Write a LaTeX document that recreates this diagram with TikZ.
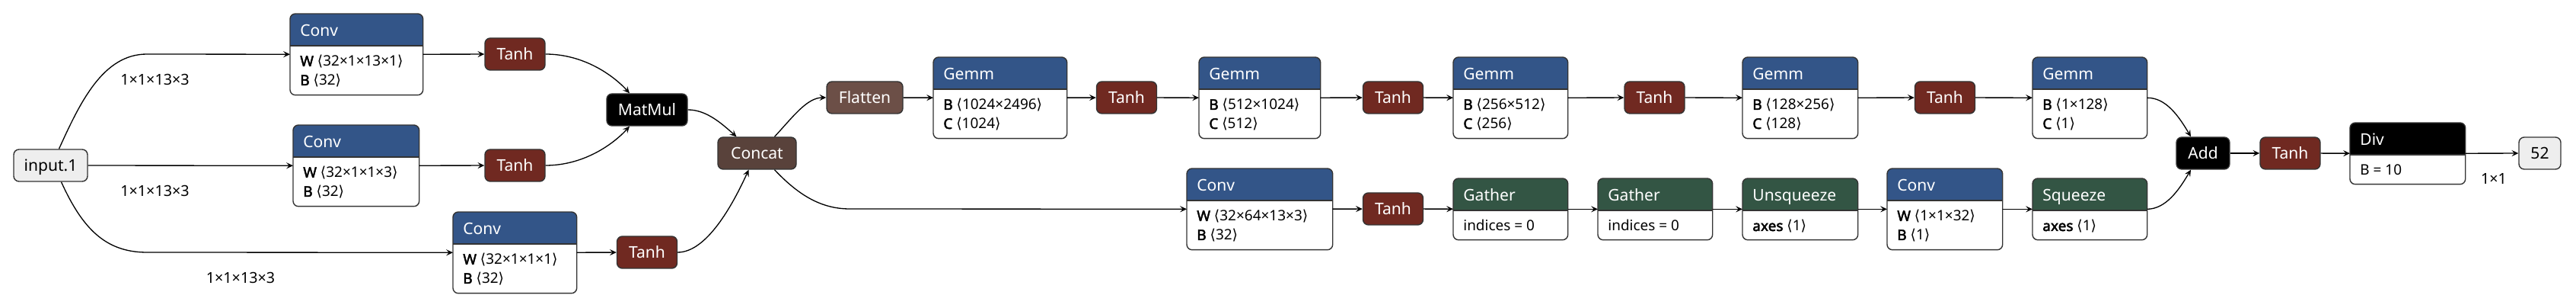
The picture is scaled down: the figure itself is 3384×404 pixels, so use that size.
\documentclass[tikz,border=0pt]{standalone}
\usepackage{fontspec}
\setmainfont{Noto Sans}
\newfontfamily\brfont{DejaVu Sans}
\newfontfamily\keyfont{Noto Sans}[FakeBold=2.4]
\usetikzlibrary{arrows.meta,calc}

\definecolor{layerblue}{RGB}{51,85,136}
\definecolor{actred}{RGB}{112,41,33}
\definecolor{shapebrown}{RGB}{108,79,71}
\definecolor{tensorbrown}{RGB}{89,66,59}
\definecolor{transgreen}{RGB}{51,85,68}
\definecolor{inputgray}{RGB}{238,238,238}
\definecolor{framegray}{RGB}{51,51,51}

\newdimen\pxu \pxu=0.02cm
\newcommand{\headsize}{\fontsize{12}{14}\selectfont}
\newcommand{\rowsize}{\fontsize{10.8}{13}\selectfont}
\newcommand{\dims}[1]{{\brfont ⟨}#1{\brfont ⟩}}
\newcommand{\key}[1]{{\keyfont #1}}

\tikzset{
  frame/.style={draw=framegray, line width=0.8pt},
  opnode/.style={frame, rounded corners=4pt, minimum height=42\pxu, inner sep=0pt,
    text=white, font=\headsize, text height=8.6pt, text depth=0pt},
  actnode/.style={opnode, fill=actred},
  blacknode/.style={opnode, fill=black},
  ionode/.style={opnode, fill=inputgray, text=black},
  boxbody/.style={fill=white, rounded corners=4pt, inner sep=0pt},
  headtext/.style={anchor=base west, inner sep=0pt, text=white, font=\headsize},
  rowtext/.style={anchor=base west, inner sep=0pt, font=\rowsize},
  lab/.style={inner sep=0pt, font=\fontsize{11.2}{13}\selectfont},
  edge/.style={draw=black, line width=0.75pt, -{Stealth[length=5pt, width=4.6pt, inset=2pt]}}
}

% name, left, top, width, height, colour, title, row 1, row 2
\newcommand{\opbox}[9]{%
  \node[boxbody, minimum width=#4\pxu, minimum height=#5\pxu, anchor=north west] (#1) at (#2,#3) {};
  \begin{scope}
    \clip[rounded corners=4pt] (#1.north west) rectangle (#1.south east);
    \fill[#6] (#1.north west) rectangle ($(#1.north east)+(0,42)$);
  \end{scope}
  \draw[frame] ($(#1.north west)+(0,42)$) -- ($(#1.north east)+(0,42)$);
  \draw[frame, rounded corners=4pt] (#1.north west) rectangle (#1.south east);
  \node[headtext] (#1-title) at ($(#1.north west)+(13,30)$) {#7};
  \node[rowtext] (#1-row1) at ($(#1.north west)+(13,69)$) {#8};
  \if\relax\detokenize{#9}\relax\else
    \node[rowtext] (#1-row2) at ($(#1.north west)+(13,94)$) {#9};
  \fi
}

\begin{document}
\begin{tikzpicture}[x=0.02cm, y=-0.02cm]
  \useasboundingbox (0,0) rectangle (3384,404);

  % three convolutions on the input
  \node[ionode, minimum width=97\pxu] (in) at (66.5,217) {input.1};
  \opbox{conv1}{381}{18}{174}{106}{layerblue}{Conv}{\key{W} \dims{32×1×13×1}}{\key{B} \dims{32}}
  \opbox{conv2}{385}{164}{165}{106}{layerblue}{Conv}{\key{W} \dims{32×1×1×3}}{\key{B} \dims{32}}
  \opbox{conv3}{595}{278}{162}{106}{layerblue}{Conv}{\key{W} \dims{32×1×1×1}}{\key{B} \dims{32}}

  \foreach \n/\x/\y in {tanh1/676.5/71, tanh2/676.5/217, tanh3/850/331, tanh4/1480/128,
      tanh5/1830/128, tanh6/2173.5/128, tanh7/1830/274, tanh8/2555/128, tanh9/3008.5/201}
    \node[actnode, minimum width=79\pxu] (\n) at (\x,\y) {Tanh};

  \node[blacknode, minimum width=106\pxu] (matmul) at (850,144) {MatMul};
  \node[opnode, fill=tensorbrown, minimum width=103\pxu] (concat) at (994.5,201) {Concat};
  \node[opnode, fill=shapebrown, minimum width=100\pxu] (flatten) at (1136,128) {Flatten};

  % upper branch
  \opbox{gemm1}{1226}{75}{175}{106}{layerblue}{Gemm}{\key{B} \dims{1024×2496}}{\key{C} \dims{1024}}
  \opbox{gemm2}{1575}{75}{159}{106}{layerblue}{Gemm}{\key{B} \dims{512×1024}}{\key{C} \dims{512}}
  \opbox{gemm3}{1909}{75}{150}{106}{layerblue}{Gemm}{\key{B} \dims{256×512}}{\key{C} \dims{256}}
  \opbox{gemm4}{2289}{75}{151}{106}{layerblue}{Gemm}{\key{B} \dims{128×256}}{\key{C} \dims{128}}
  \opbox{gemm5}{2670}{75}{150}{106}{layerblue}{Gemm}{\key{B} \dims{1×128}}{\key{C} \dims{1}}

  % lower branch
  \opbox{conv4}{1559}{221}{191}{106}{layerblue}{Conv}{\key{W} \dims{32×64×13×3}}{\key{B} \dims{32}}
  \opbox{gather1}{1909}{234}{150}{80}{transgreen}{Gather}{indices = 0}{}
  \opbox{gather2}{2099}{234}{150}{80}{transgreen}{Gather}{indices = 0}{}
  \opbox{unsq}{2289}{234}{151}{80}{transgreen}{Unsqueeze}{\key{axes} \dims{1}}{}
  \opbox{conv5}{2479}{221}{151}{106}{layerblue}{Conv}{\key{W} \dims{1×1×32}}{\key{B} \dims{1}}
  \opbox{squeeze}{2670}{234}{150}{80}{transgreen}{Squeeze}{\key{axes} \dims{1}}{}

  % output
  \node[blacknode, minimum width=70\pxu] (add) at (2894,201) {Add};
  \opbox{div}{3087}{161}{151}{80}{black}{Div}{B = 10}{}
  \node[ionode, minimum width=55\pxu] (out) at (3336.5,201) {52};

  % connectors
  \draw[edge] ($(in.north)+(11,0)$) .. controls (105,135) and (135,71) .. (193,71) -- (conv1);
  \draw[edge] (in) -- (conv2);
  \draw[edge] ($(in.south)+(14,0)$) .. controls (108,299) and (138,331) .. (193,331) -- (conv3);
  \foreach \a/\b in {conv1/tanh1, conv2/tanh2, conv3/tanh3, flatten/gemm1, gemm1/tanh4,
      tanh4/gemm2, gemm2/tanh5, tanh5/gemm3, gemm3/tanh6, tanh6/gemm4, gemm4/tanh8,
      tanh8/gemm5, conv4/tanh7, tanh7/gather1, gather1/gather2, gather2/unsq, unsq/conv5,
      conv5/squeeze, add/tanh9, tanh9/div, div/out}
    \draw[edge] (\a) -- (\b);
  \draw[edge] (tanh1.east) .. controls (766,71) and (805,98) .. ($(matmul.north)+(-23,0)$);
  \draw[edge] (tanh2.east) .. controls (766,217) and (805,190) .. ($(matmul.south)+(-23,0)$);
  \draw[edge] (matmul.east) .. controls (928,144) and (948,162) .. ($(concat.north)+(-27,0)$);
  \draw[edge] (tanh3.east) .. controls (928,331) and (962,270) .. ($(concat.south)+(-11,0)$);
  \draw[edge] ($(concat.north)+(23,0)$) .. controls (1042,153) and (1060,128) .. (flatten.west);
  \draw[edge] ($(concat.south)+(23,0)$) .. controls (1048,255) and (1078,274) .. (1116,274) -- (conv4);
  \draw[edge] (gemm5.east) .. controls (2845,128) and (2862,152) .. ($(add.north)+(-16,0)$);
  \draw[edge] (squeeze.east) .. controls (2845,274) and (2862,250) .. ($(add.south)+(-16,0)$);

  % tensor shapes
  \node[lab] (shape1) at (203.5,104) {1×1×13×3};
  \node[lab] (shape2) at (203.5,250) {1×1×13×3};
  \node[lab] (shape3) at (316,364) {1×1×13×3};
  \node[lab] (shape4) at (3276,234) {1×1};
\end{tikzpicture}
\end{document}
